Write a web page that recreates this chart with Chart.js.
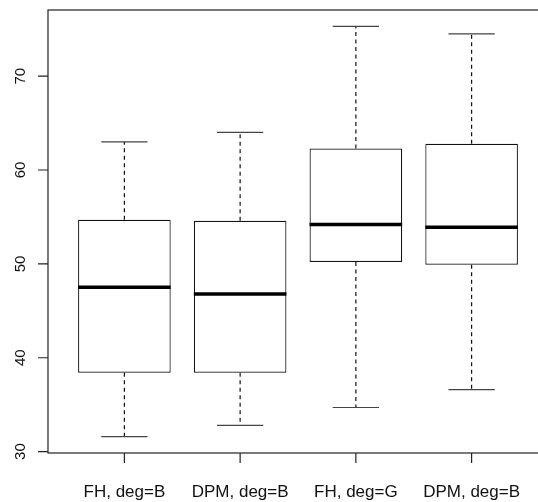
<!DOCTYPE html>
<html><head><meta charset="utf-8">
<script src="https://cdn.jsdelivr.net/npm/chart.js@4/dist/chart.umd.min.js"></script>
<style>html,body{margin:0;padding:0;overflow:hidden;background:#fff;width:538px;height:502px}</style>
</head><body>
<canvas id="c" width="560" height="502" style="width:560px;height:502px;display:block"></canvas>
<script>
const categories = ["FH, deg=B", "DPM, deg=B", "FH, deg=G", "DPM, deg=B"];
const whiskerLow  = [31.6, 32.8, 34.7, 36.6];
const q1          = [38.4, 38.4, 50.2, 49.9];
const median      = [47.5, 46.8, 54.2, 53.9];
const q3          = [54.7, 54.6, 62.3, 62.8];
const whiskerHigh = [63.0, 64.0, 75.3, 74.5];
const yTicks = [30, 40, 50, 60, 70];

const positions = categories.map((c, i) => i + 1);
const lo = Math.min(...whiskerLow), hi = Math.max(...whiskerHigh);
const yPad = (hi - lo) * 0.04;
const xPad = (positions.length) * 0.04;

const FONT = '"Liberation Sans", Arial, Helvetica, sans-serif';

const boxPlugin = {
  id: 'boxplot',
  afterDatasetsDraw(chart) {
    const ctx = chart.ctx, xs = chart.scales.x, ys = chart.scales.y;
    const step = xs.getPixelForValue(2) - xs.getPixelForValue(1);
    const half = step * 0.4, staple = step * 0.2;
    ctx.save();
    positions.forEach((p, i) => {
      const cx = xs.getPixelForValue(p);
      ctx.strokeStyle = '#111'; ctx.lineWidth = 1.2; ctx.setLineDash([4, 3.5]);
      ctx.beginPath();
      ctx.moveTo(cx, ys.getPixelForValue(q3[i])); ctx.lineTo(cx, ys.getPixelForValue(whiskerHigh[i]));
      ctx.moveTo(cx, ys.getPixelForValue(q1[i])); ctx.lineTo(cx, ys.getPixelForValue(whiskerLow[i]));
      ctx.stroke();
      ctx.setLineDash([]);
      ctx.strokeStyle = '#444'; ctx.lineWidth = 1.2;
      ctx.beginPath();
      let yh = ys.getPixelForValue(whiskerHigh[i]), yl = ys.getPixelForValue(whiskerLow[i]);
      ctx.moveTo(cx - staple, yh); ctx.lineTo(cx + staple, yh);
      ctx.moveTo(cx - staple, yl); ctx.lineTo(cx + staple, yl);
      ctx.stroke();
      ctx.strokeStyle = '#000'; ctx.lineWidth = 3.5;
      const ym = ys.getPixelForValue(median[i]);
      ctx.beginPath(); ctx.moveTo(cx - half, ym); ctx.lineTo(cx + half, ym); ctx.stroke();
    });
    ctx.restore();
  },
  afterDraw(chart) {
    const ctx = chart.ctx, xs = chart.scales.x, ys = chart.scales.y, a = chart.chartArea;
    ctx.save();
    ctx.strokeStyle = '#222'; ctx.lineWidth = 1.2;
    ctx.strokeRect(a.left, a.top, a.right - a.left, a.bottom - a.top);
    ctx.beginPath();
    yTicks.forEach(v => { const y = ys.getPixelForValue(v); ctx.moveTo(a.left - 10, y); ctx.lineTo(a.left, y); });
    positions.forEach(p => { const x = xs.getPixelForValue(p); ctx.moveTo(x, a.bottom); ctx.lineTo(x, a.bottom + 10); });
    ctx.stroke();
    ctx.fillStyle = '#111';
    ctx.font = '15px ' + FONT;
    ctx.textAlign = 'center'; ctx.textBaseline = 'middle';
    yTicks.forEach(v => {
      const y = ys.getPixelForValue(v);
      ctx.save(); ctx.translate(21, y); ctx.rotate(-Math.PI / 2); ctx.fillText(String(v), 0, 0); ctx.restore();
    });
    ctx.font = '17px ' + FONT;
    positions.forEach((p, i) => ctx.fillText(categories[i], xs.getPixelForValue(p), 492));
    ctx.restore();
  }
};

new Chart(document.getElementById('c'), {
  type: 'bar',
  data: {
    datasets: [{
      data: positions.map((p, i) => ({ x: p, y: [q1[i], q3[i]] })),
      backgroundColor: '#ffffff',
      borderColor: '#111',
      borderWidth: 1.2,
      borderSkipped: false,
      categoryPercentage: 0.8,
      barPercentage: 1.0
    }]
  },
  options: {
    responsive: false,
    animation: false,
    events: [],
    layout: { padding: { left: 48, top: 10, right: 12, bottom: 49 } },
    plugins: { legend: { display: false }, tooltip: { enabled: false } },
    scales: {
      x: {
        type: 'linear', display: false, offset: false,
        min: 1 - 0.5 - xPad, max: positions.length + 0.5 + xPad,
        afterBuildTicks(s) { s.ticks = positions.map(v => ({ value: v })); }
      },
      y: {
        type: 'linear', display: false,
        min: lo - yPad, max: hi + yPad
      }
    }
  },
  plugins: [boxPlugin]
});
</script>
</body></html>
